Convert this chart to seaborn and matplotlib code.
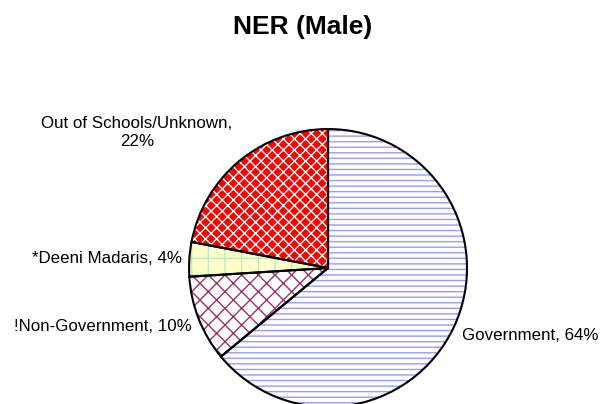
import matplotlib
matplotlib.use("Agg")
import matplotlib.pyplot as plt
import seaborn as sns

# data
labels = ["Government", "!Non-Government", "*Deeni Madaris", "Out of Schools/Unknown"]
shares = [64, 10, 4, 22]
label_text = ["Government, 64%", "!Non-Government, 10%", "*Deeni Madaris, 4%",
              "Out of Schools/Unknown,\n22%"]

sns.set_theme(style="white")
plt.rcParams['font.family'] = ['Liberation Sans', 'DejaVu Sans']

face_colors = ["white", "white", "#ffffcc", "#ff0000"]
hatch_colors = ["#9999ff", "#993366", "#b8ecb8", "white"]
hatches = ["---", "xx", "+", "xxx"]

fig = plt.figure(figsize=(6.02, 4.04), dpi=100)
ax = fig.add_axes([0.314, -0.0074, 0.4618, 0.688])

# hatched fill layer
wedges, _ = ax.pie(shares, startangle=90, counterclock=False, radius=1,
                   colors=face_colors, wedgeprops=dict(linewidth=0))
for w, hc, h in zip(wedges, hatch_colors, hatches):
    w.set_edgecolor(hc)
    w.set_hatch(h)

# outline layer
ax.pie(shares, startangle=90, counterclock=False, radius=1,
       colors=["none"] * 4,
       wedgeprops=dict(linewidth=1.5, edgecolor="black", fill=False))

ax.set_xlim(-1, 1)
ax.set_ylim(-1, 1)
ax.axis("off")

# labels
pos = [(0.964, -0.482, "left"), (-0.978, -0.424, "right"),
       (-1.050, 0.072, "right"), (-1.374, 0.975, "center")]
for txt, (x, y, ha) in zip(label_text, pos):
    ax.text(x, y, txt, ha=ha, va="center", fontsize=12.2, color="black",
            multialignment="center", linespacing=1.25, clip_on=False)

fig.text(0.502, 0.933, "NER (Male)", ha="center", va="center",
         fontsize=19, fontweight="bold", color="black")

fig.savefig("out.png", dpi=100, facecolor="white")
